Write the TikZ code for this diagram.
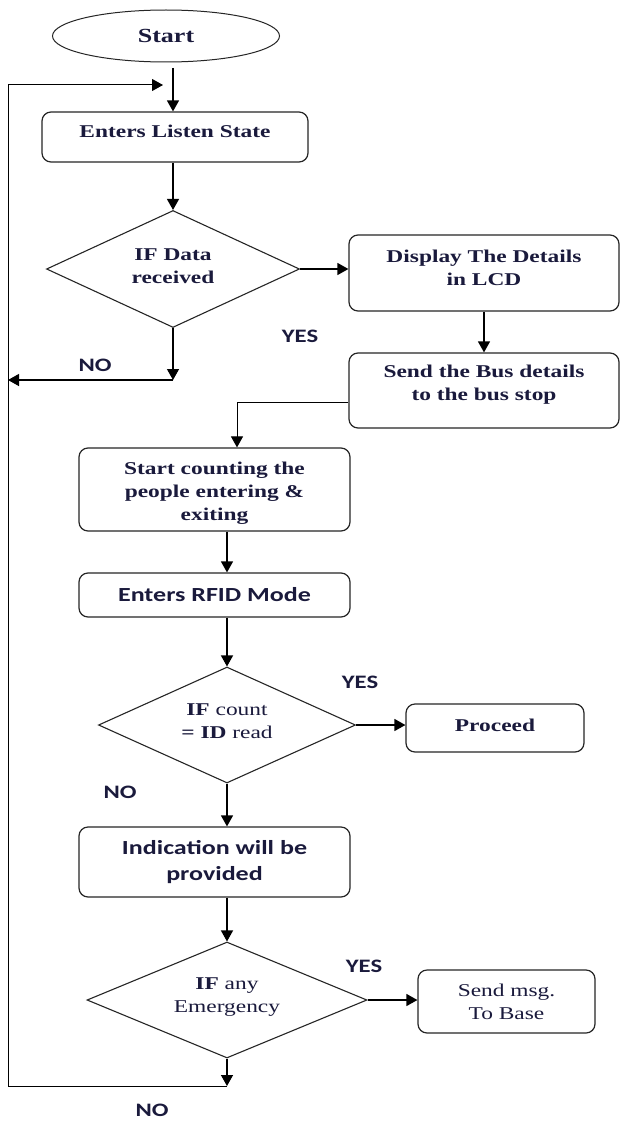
\documentclass[tikz,border=0pt]{standalone}
\usepackage{fontspec}
\setmainfont{Liberation Serif}[FakeStretch=1.3]
\newfontfamily\calfont{Carlito}[FakeStretch=1.3]
\usetikzlibrary{shapes.geometric,arrows.meta}
\definecolor{ink}{HTML}{1A1A3C}
\begin{document}
\begin{tikzpicture}[x=1pt,y=-1pt,
  box/.style={draw=black!85, line width=1.2pt, rounded corners=9pt, inner sep=0pt},
  dia/.style={diamond, draw=black!85, line width=1.1pt, inner sep=0pt},
  tt/.style={text=ink, font=\fontsize{18}{23}\selectfont\bfseries, align=center, inner sep=0pt},
  ct/.style={text=ink, font=\fontsize{20}{26}\selectfont\calfont\bfseries, align=center, inner sep=0pt},
  lab/.style={text=ink, font=\fontsize{19}{22}\selectfont\calfont\bfseries, inner sep=0pt},
  arr/.style={draw=black, line width=1.3pt, -{Triangle[length=11pt,width=12pt]}},
  thinarr/.style={draw=black, line width=1pt, -{Triangle[length=11pt,width=12pt]}}]

\useasboundingbox (0,0) rectangle (620,1121);
\fill[white] (0,0) rectangle (620,1121);

% shapes
\node[ellipse, draw=black!85, line width=1pt, minimum width=227pt, minimum height=52pt, inner sep=0pt] (start) at (166,36) {};
\node[tt, font=\fontsize{20}{24}\selectfont\bfseries] (startT) at (start) {Start};

\node[box, minimum width=266pt, minimum height=50pt] (listen) at (175,137) {};
\node[tt, yshift=6pt] (listenT) at (listen) {Enters Listen State};

\node[dia, minimum width=253pt, minimum height=117pt] (d1) at (173,269) {};
\node[tt, yshift=2.5pt] (d1T) at (d1) {IF Data\\received};

\node[box, minimum width=270pt, minimum height=76pt] (display) at (484,273) {};
\node[tt, yshift=5.5pt] (displayT) at (display) {Display The Details\\in LCD};

\node[box, minimum width=270pt, minimum height=75pt] (send) at (484,390.5) {};
\node[tt, yshift=5.5pt] (sendT) at (send) {Send the Bus details\\to the bus stop};

\node[box, minimum width=271pt, minimum height=83pt] (count) at (214.5,489.5) {};
\node[tt, yshift=-3.5pt] (countT) at (count) {Start counting the\\people entering \&\\exiting};

\node[box, minimum width=271pt, minimum height=44pt] (rfid) at (214.5,595) {};
\node[ct] (rfidT) at (rfid) {Enters RFID Mode};

\node[dia, minimum width=257pt, minimum height=116pt] (d2) at (227,725) {};
\node[tt, yshift=4pt] (d2T) at (d2) {IF \mdseries count\\= \bfseries ID \mdseries read};

\node[box, minimum width=178pt, minimum height=48pt] (proceed) at (495,728) {};
\node[tt, yshift=3pt] (proceedT) at (proceed) {Proceed};

\node[box, minimum width=271pt, minimum height=70pt] (indic) at (214.5,862) {};
\node[ct] (indicT) at (indic) {Indication will be\\provided};

\node[dia, minimum width=280pt, minimum height=116pt] (d3) at (227,1000) {};
\node[tt, yshift=2.5pt] (d3T) at (d3) {IF \mdseries any\\\mdseries Emergency};

\node[box, minimum width=177pt, minimum height=63pt] (sendmsg) at (506.5,1001.5) {};
\node[tt, font=\fontsize{18}{23}\selectfont] (sendmsgT) at (sendmsg) {Send msg.\\To Base};

% labels
\node[lab] (yes1) at (300,336) {YES};
\node[lab] (no1) at (95,365) {NO};
\node[lab] (yes2) at (360,682) {YES};
\node[lab] (no2) at (120,792) {NO};
\node[lab] (yes3) at (364,966) {YES};
\node[lab] (no3) at (152,1110) {NO};

% coordinates
\coordinate (s0) at (173,68);
\coordinate (n1) at (173,380);
\coordinate (lt) at (8,85);
\coordinate (lb) at (8,1086);
\coordinate (ltip) at (163,85);
\coordinate (b1) at (237,402);
\coordinate (e1) at (227,1086);

% connectors
\draw[arr] (s0) -- (s0 |- listen.north);
\draw[arr] (listen.south -| d1.north) -- (d1.north);
\draw[arr] (d1.east) -- (d1.east -| display.west);
\draw[arr] (d1.south) -- (n1);
\draw[arr] (n1) -- (n1 -| lt);
\draw[arr] (display.south) -- (send.north);
\draw[thinarr] (b1 -| send.west) -- (b1) -- (b1 |- count.north);
\draw[arr] (count.south -| d2.north) -- (rfid.north -| d2.north);
\draw[arr] (rfid.south -| d2.north) -- (d2.north);
\draw[arr] (d2.east) -- (d2.east -| proceed.west);
\draw[arr] (d2.south) -- (indic.north -| d2.south);
\draw[arr] (indic.south -| d3.north) -- (d3.north);
\draw[arr] (d3.east) -- (d3.east -| sendmsg.west);
\draw[arr] (d3.south) -- (e1);
\draw[thinarr] (e1) -- (lb) -- (lt) -- (ltip);
\end{tikzpicture}
\end{document}
